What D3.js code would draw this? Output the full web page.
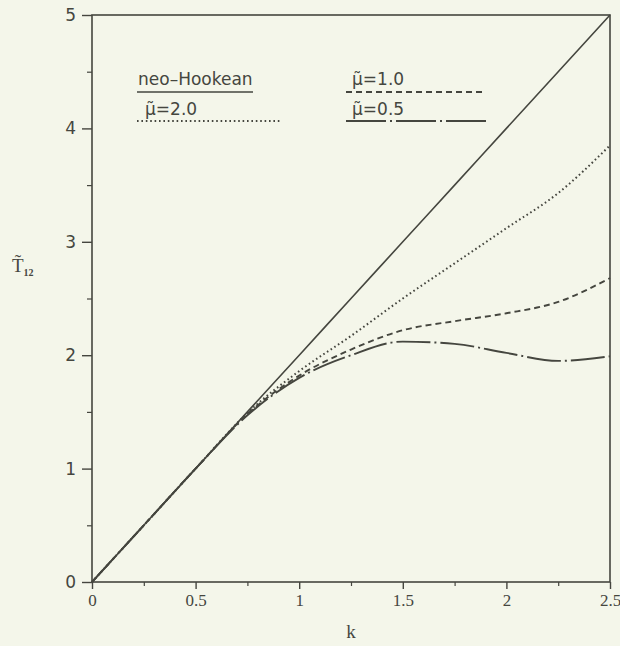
<!DOCTYPE html>
<html>
<head>
<meta charset="utf-8">
<script src="https://cdn.jsdelivr.net/npm/d3@7/dist/d3.min.js"></script>
<style>
  html, body { margin: 0; padding: 0; background: #f4f6ea; }
  svg { display: block; }
</style>
</head>
<body>
<svg id="chart" width="620" height="646"></svg>
<script>
// Shear stress T12 against amount of shear k
const kValues   = [0, 0.25, 0.5, 0.75, 1.0, 1.25, 1.5, 1.75, 2.0, 2.25, 2.5];
const neoHookean = [0, 0.5, 1.0, 1.5, 2.0, 2.5, 3.0, 3.5, 4.0, 4.5, 5.0];
const mu20 = [0, 0.5, 1.0, 1.49, 1.86, 2.17, 2.5, 2.81, 3.12, 3.43, 3.85];
const mu10 = [0, 0.5, 1.0, 1.48, 1.82, 2.05, 2.22, 2.30, 2.37, 2.47, 2.68];
const mu05 = [0, 0.5, 1.0, 1.47, 1.80, 2.00, 2.12, 2.10, 2.02, 1.95, 1.99];

const xTicks = [0, 0.5, 1, 1.5, 2, 2.5];
const xTickLabels = ["0", "0.5", "1", "1.5", "2", "2.5"];
const xMinor = [0.25, 0.75, 1.25, 1.75, 2.25];
const yTicks = [0, 1, 2, 3, 4, 5];
const yMinor = [0.5, 1.5, 2.5, 3.5, 4.5];

const ink = "#45463f";
const svg = d3.select("#chart");
const plotLeft = 92, plotRight = 610, plotTop = 15, plotBottom = 582;

const x = d3.scaleLinear().domain([0, 2.5]).range([plotLeft, plotRight]);
const y = d3.scaleLinear().domain([0, 5]).range([plotBottom, plotTop]);

// frame
svg.append("rect")
  .attr("x", plotLeft).attr("y", plotTop)
  .attr("width", plotRight - plotLeft).attr("height", plotBottom - plotTop)
  .attr("fill", "none").attr("stroke", ink).attr("stroke-width", 1.6);

// x axis
const xAxis = d3.axisBottom(x).tickValues(xTicks)
  .tickFormat((d, i) => xTickLabels[i]).tickSize(7).tickPadding(5);
const gx = svg.append("g").attr("transform", `translate(0,${plotBottom})`).call(xAxis);
gx.select(".domain").remove();
gx.selectAll("line").attr("stroke", ink).attr("stroke-width", 1.4);
gx.selectAll("text").attr("fill", ink)
  .style("font-family", "'Liberation Serif', serif").style("font-size", "17px");
const gxm = svg.append("g").attr("transform", `translate(0,${plotBottom})`)
  .call(d3.axisBottom(x).tickValues(xMinor).tickSize(4).tickFormat(""));
gxm.select(".domain").remove();
gxm.selectAll("line").attr("stroke", ink).attr("stroke-width", 1.2);

// y axis
const yAxis = d3.axisLeft(y).tickValues(yTicks).tickFormat(d3.format("d"))
  .tickSize(10).tickPadding(6);
const gy = svg.append("g").attr("transform", `translate(${plotLeft},0)`).call(yAxis);
gy.select(".domain").remove();
gy.selectAll("line").attr("stroke", ink).attr("stroke-width", 1.4);
gy.selectAll("text").attr("fill", ink)
  .style("font-family", "'DejaVu Sans', sans-serif").style("font-size", "17px");
const gym = svg.append("g").attr("transform", `translate(${plotLeft},0)`)
  .call(d3.axisLeft(y).tickValues(yMinor).tickSize(5).tickFormat(""));
gym.select(".domain").remove();
gym.selectAll("line").attr("stroke", ink).attr("stroke-width", 1.2);

// axis titles
svg.append("text").attr("x", (plotLeft + plotRight) / 2).attr("y", 638)
  .attr("text-anchor", "middle").attr("fill", ink)
  .style("font-family", "'Liberation Serif', serif").style("font-size", "19px")
  .text("k");
const yt = svg.append("text").attr("x", 12).attr("y", 272).attr("fill", ink)
  .style("font-family", "'Liberation Serif', serif").style("font-size", "19px");
yt.append("tspan").text("T\u0303");
yt.append("tspan").attr("dy", 4).style("font-size", "10px").style("font-weight", "bold").text("12");

// curves
const line = d3.line().x((d, i) => x(kValues[i])).y(d => y(d)).curve(d3.curveMonotoneX);
const series = [
  { vals: neoHookean, dash: null, w: 1.6 },
  { vals: mu20, dash: "1.6,2.8", w: 2 },
  { vals: mu10, dash: "6,4", w: 1.9 },
  { vals: mu05, dash: "34,4,2,4", w: 1.9 }
];
svg.append("g").selectAll("path").data(series).join("path")
  .attr("d", d => line(d.vals))
  .attr("fill", "none").attr("stroke", ink)
  .attr("stroke-width", d => d.w)
  .attr("stroke-dasharray", d => d.dash);

// legend
const legend = [
  { label: "neo\u2013Hookean", tx: 138, ty: 85, x1: 137, x2: 253, ly: 92, dash: null, w: 1.6 },
  { label: "\u03bc\u0303=2.0", tx: 145, ty: 115, x1: 137, x2: 280, ly: 121, dash: "1.6,2.8", w: 2 },
  { label: "\u03bc\u0303=1.0", tx: 352, ty: 85, x1: 346, x2: 486, ly: 92, dash: "6,4", w: 1.8 },
  { label: "\u03bc\u0303=0.5", tx: 352, ty: 115, x1: 346, x2: 486, ly: 121, dash: "40,4,2,4", w: 1.8 }
];
const lg = svg.append("g").selectAll("g").data(legend).join("g");
lg.append("text").attr("x", d => d.tx).attr("y", d => d.ty).attr("fill", ink)
  .style("font-family", "'DejaVu Sans', sans-serif").style("font-size", "17px")
  .text(d => d.label);
lg.append("line").attr("x1", d => d.x1).attr("x2", d => d.x2)
  .attr("y1", d => d.ly).attr("y2", d => d.ly)
  .attr("stroke", ink).attr("stroke-width", d => d.w)
  .attr("stroke-dasharray", d => d.dash);
</script>
</body>
</html>
